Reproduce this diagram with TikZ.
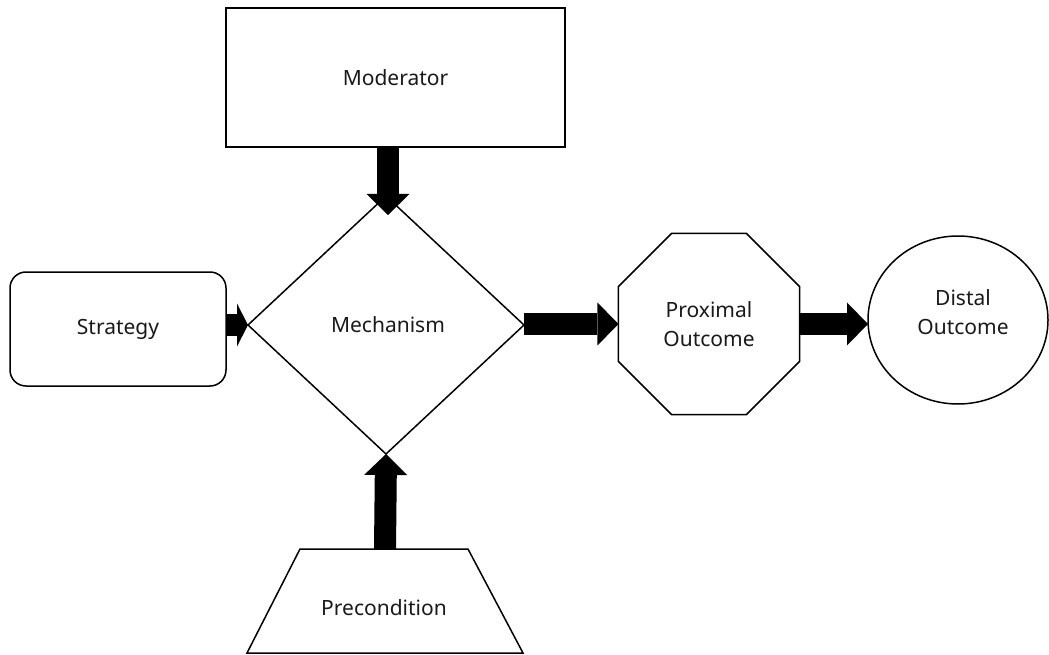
\documentclass[tikz,border=0pt]{standalone}
\usepackage{fontspec}
\setmainfont{Noto Sans}
\usetikzlibrary{shapes.geometric,arrows.meta,calc}
\definecolor{txt}{HTML}{1A1A1A}

\begin{document}
\begin{tikzpicture}[x=1pt,y=-1pt,
  every node/.style={font=\fontsize{21}{28.5}\selectfont, text=txt, align=center,
                     inner sep=0pt, outer sep=0pt},
  box/.style={draw=black, line width=1.5pt, fill=white},
  flow/.style={draw=black, line width=22pt,
               -{Triangle[length=#1, width=43pt, line width=0pt]}},
  flow/.default=21pt,
]
\useasboundingbox (0,0) rectangle (1049,655);

% shapes
\node[box, rectangle, minimum width=339pt, minimum height=139pt]
  (mod) at (395.5,77.5) {Moderator};
\node[box, rectangle, rounded corners=16pt, minimum width=216pt, minimum height=114pt]
  (strat) at (118,329) {Strategy};
\node[box, diamond, minimum width=276pt, minimum height=258pt]
  (mech) at (386,325) {};
\node (mechtext) at (388,325) {Mechanism};
\node[box, regular polygon, regular polygon sides=8, minimum size=196pt]
  (prox) at (709,324) {Proximal\\Outcome};
\node[box, ellipse, minimum width=180pt, minimum height=168pt]
  (dist) at (958,320) {};
\node (disttext) at (963,312) {Distal\\Outcome};

% trapezium drawn on the frame of an invisible box
\node[rectangle, minimum width=276pt, minimum height=104pt] (prec) at (385,601) {};
\draw[box] (prec.south west) -- ($(prec.north west)+(53,0)$)
  -- ($(prec.north east)+(-55,0)$) -- (prec.south east) -- cycle;
\node (prectext) at (384,608) {Precondition};

% block arrows
\coordinate (modtip) at ($(mech.north)+(2,19)$);
\draw[flow] (modtip |- mod.south) -- (modtip);
\draw[flow=11pt] (strat.east |- mech.west) -- (mech.west);
\draw[flow] (mech.east |- prox.west) -- (prox.west);
\draw[flow] (prox.east) -- (prox.east -| dist.west);
\draw[flow] (prec.north) -- (mech.south);
\end{tikzpicture}
\end{document}
